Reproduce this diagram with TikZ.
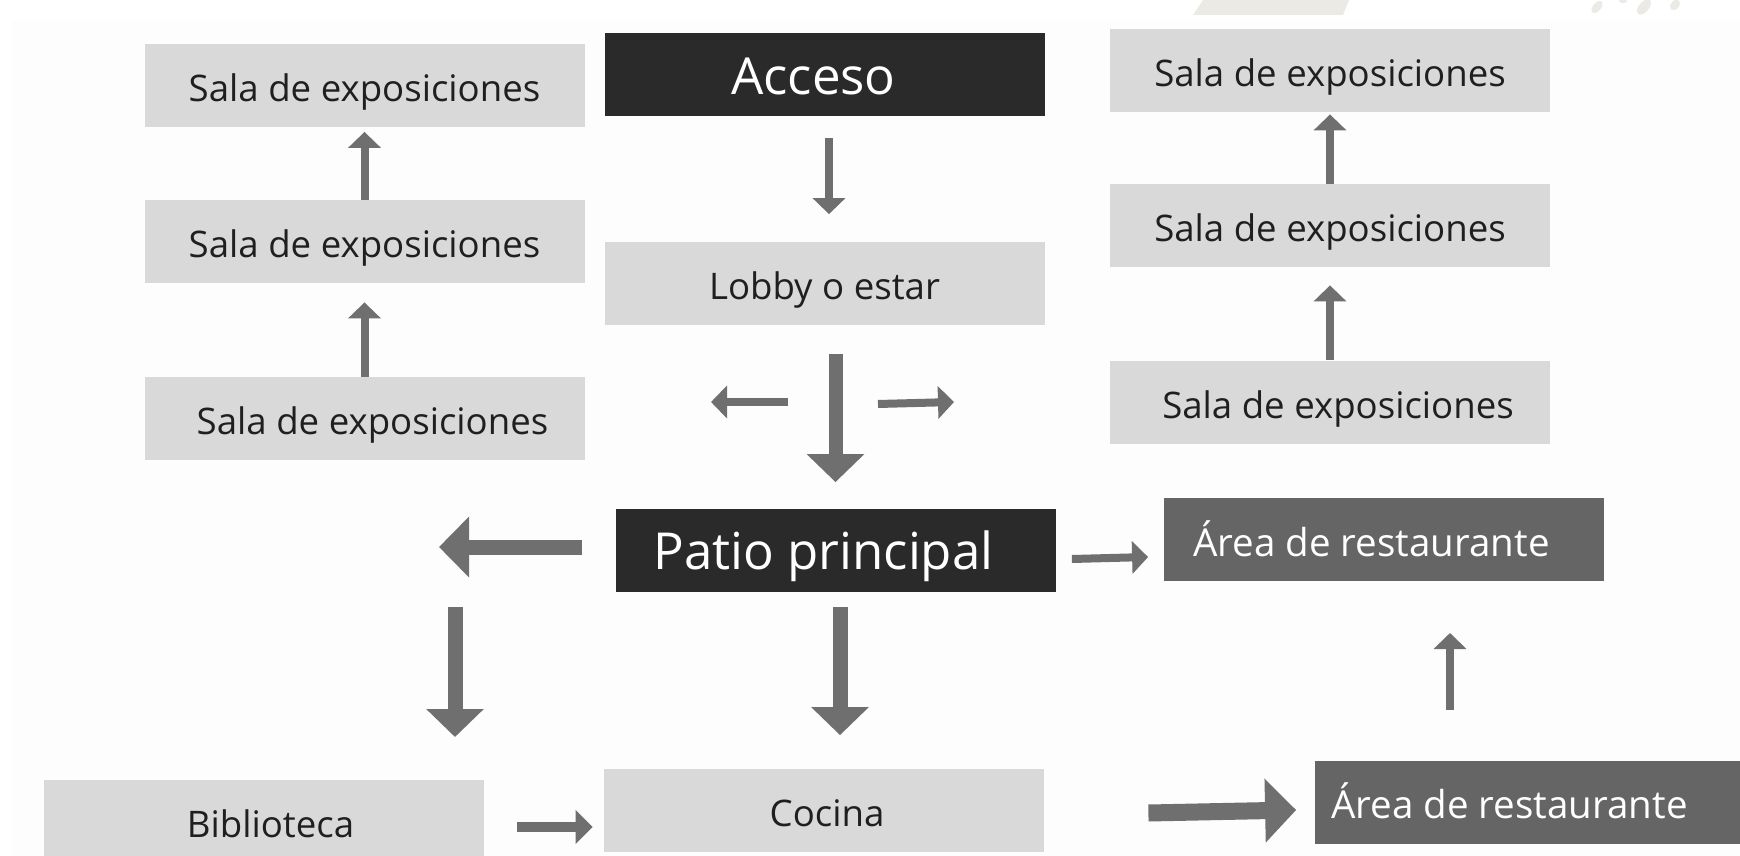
\documentclass[tikz,border=0pt]{standalone}
\usepackage{fontspec}
\setmainfont{Open Sans}
\usetikzlibrary{arrows.meta}
\definecolor{lightbox}{HTML}{D9D9D9}
\definecolor{darkbox}{HTML}{2A2A2A}
\definecolor{midbox}{HTML}{656565}
\definecolor{arrowgray}{HTML}{6F6F6F}
\definecolor{panelgray}{HTML}{FDFDFD}
\definecolor{beigedeco}{HTML}{ECEAE5}
\begin{document}
\begin{tikzpicture}[x=0.5pt,y=-0.5pt,
  roombox/.style={rectangle, inner sep=0pt, minimum width=220pt, minimum height=41.5pt,
    fill=lightbox, text=black!88, font=\fontsize{18.3}{22}\selectfont,
    text height=20pt, text depth=4pt},
  darkroom/.style={roombox, fill=darkbox, text=white, font=\fontsize{25.5}{30}\selectfont,
    text height=25.5pt, text depth=5.8pt},
  midroom/.style={roombox, fill=midbox, text=white, font=\fontsize{19.25}{23}\selectfont,
    text height=21pt, text depth=4.25pt},
  thinarrow/.style={draw=arrowgray, line width=4pt, -{Triangle[width=16pt,length=8pt]}},
  midarrow/.style={draw=arrowgray, line width=5pt, -{Triangle[width=16.5pt,length=8.5pt]}},
  bigarrow/.style={draw=arrowgray, line width=7.5pt, -{Triangle[width=28pt,length=14pt]}},
  hugearrow/.style={draw=arrowgray, line width=8.5pt, -{Triangle[width=31pt,length=15.5pt]}},
]
\useasboundingbox (0,0) rectangle (1740,856);
\clip (0,0) rectangle (1740,856);
\fill[white] (0,0) rectangle (1740,856);
\fill[panelgray] (12,20) rectangle (1740,856);
% faint decorations at the top edge
\fill[beigedeco] (1203,0) -- (1349,0) -- (1343,15) -- (1193,15) -- cycle;
\fill[beigedeco] (1597,7) ellipse [x radius=4, y radius=7, rotate=-40];
\fill[beigedeco] (1644,7) ellipse [x radius=5, y radius=9, rotate=-40];
\fill[beigedeco] (1675,5) ellipse [x radius=4, y radius=6, rotate=-40];
\fill[beigedeco] (1623,1) ellipse [x radius=4, y radius=2];

% rooms
\node[roombox] (salaL1) at (364.5,86) {Sala de exposiciones};
\node[roombox] (salaL2) at (364.5,241.5) {Sala de exposiciones};
\node[roombox] (salaL3) at (364.5,418.5) {\hspace*{8pt}Sala de exposiciones};
\node[darkroom] (acceso) at (824.5,75) {Acceso\hspace*{11pt}};
\node[roombox] (lobby) at (824.5,283) {Lobby o estar};
\node[roombox] (salaR1) at (1330,70.5) {Sala de exposiciones};
\node[roombox] (salaR2) at (1330,225.5) {Sala de exposiciones};
\node[roombox] (salaR3) at (1330,402) {\hspace*{8pt}Sala de exposiciones};
\node[darkroom] (patio) at (835.5,550) {Patio principal\hspace*{12pt}};
\node[midroom] (rest1) at (1383.5,539.5) {Área de restaurante\hspace*{12pt}};
\node[roombox] (biblio) at (263.5,821) {\hspace*{7pt}Biblioteca};
\node[roombox] (cocina) at (824,810) {\hspace*{3pt}Cocina};
\node[midroom] (rest2) at (1534.5,802) {Área de restaurante\hspace*{25pt}};

% free arrow ends
\coordinate (lobLtail) at (788,402);
\coordinate (lobLtip) at (711,402);
\coordinate (lobRtail) at (878,404);
\coordinate (lobRtip) at (954,402);
\coordinate (patioLtip) at (439,547);
\coordinate (pdlTail) at (455,607);
\coordinate (pdlTip) at (455,737);
\coordinate (upTail) at (1450,710);
\coordinate (upTip) at (1450,633);

% connectors
\draw[thinarrow, shorten >=2pt] (salaL2.north) -- (salaL1.south);
\draw[thinarrow, shorten >=9.5pt] (salaL3.north) -- (salaL2.south);
\draw[thinarrow, shorten >=1pt] (salaR2.north) -- (salaR1.south);
\draw[thinarrow, shorten >=9pt] (salaR3.north) -- (salaR2.south);
\draw[thinarrow, shorten <=10.5pt, shorten >=13.5pt] ([xshift=2.25pt]acceso.south) -- ([xshift=2.25pt]lobby.north);
\draw[thinarrow] (lobLtail) -- (lobLtip);
\draw[thinarrow] (lobRtail) -- (lobRtip);
\draw[bigarrow, line width=7pt, shorten <=14.5pt, shorten >=13pt] (patio.north |- lobby.south) -- (patio.north);
\draw[bigarrow, -{Triangle[width=29.5pt,length=15pt]}, shorten <=16.5pt] ([yshift=1.5pt]patio.west) -- (patioLtip);
\draw[thinarrow] ([xshift=8pt,yshift=-4.5pt]patio.east) -- ([xshift=-7.5pt,yshift=-8.75pt]rest1.west);
\draw[bigarrow] (pdlTail) -- (pdlTip);
\draw[bigarrow, shorten <=7.5pt, shorten >=16.5pt] ([xshift=2.25pt]patio.south) -- ([xshift=2.25pt]patio.south |- cocina.north);
\draw[midarrow] ([xshift=16.5pt,yshift=-3pt]biblio.east) -- ([xshift=-5.5pt,yshift=-8.5pt]cocina.west);
\draw[hugearrow] ([xshift=52pt,yshift=-1.5pt]cocina.east) -- ([xshift=-9pt,yshift=-4pt]rest2.west);
\draw[thinarrow] (upTail) -- (upTip);
\end{tikzpicture}
\end{document}
